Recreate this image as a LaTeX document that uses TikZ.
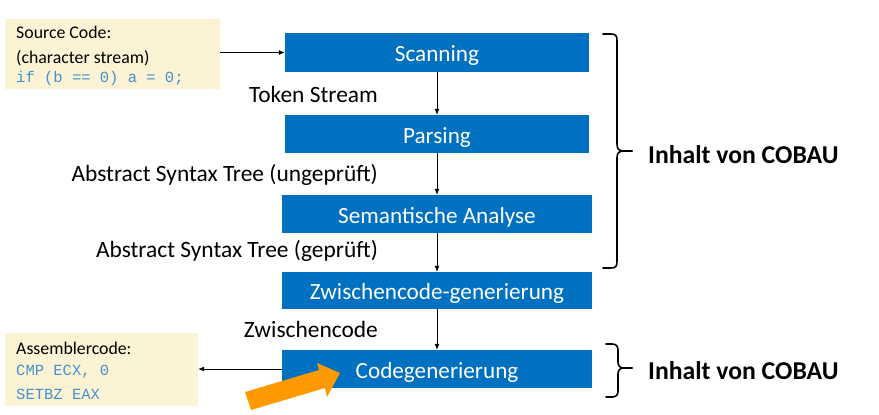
\documentclass[tikz,border=0pt]{standalone}
\usepackage{fontspec}
\setmainfont{Carlito}
\newfontfamily\codefont{Liberation Mono}
\definecolor{boxblue}{RGB}{0,112,192}
\definecolor{noteyellow}{RGB}{252,243,213}
\definecolor{codeblue}{RGB}{70,145,205}
\definecolor{arroworange}{RGB}{255,153,0}
\tikzset{
  stage/.style={fill=boxblue, text=white, font=\fontsize{23.2}{26}\selectfont, inner sep=0pt, text height=20pt, text depth=2pt},
  note/.style={fill=noteyellow, inner sep=0pt},
  lbl/.style={anchor=east, font=\fontsize{23.4}{26}\selectfont, inner sep=0pt},
  notetext/.style={anchor=west, font=\fontsize{17.8}{20}\selectfont, inner sep=0pt},
  codetext/.style={anchor=west, font=\codefont\fontsize{15.5}{18}\selectfont, text=codeblue, inner sep=0pt},
  flow/.style={-{Latex[length=6pt,width=5pt]}, line width=0.8pt},
  brace/.style={line width=1.6pt, line cap=round, line join=round},
  cobau/.style={anchor=west, font=\bfseries\fontsize{25.7}{28}\selectfont, inner sep=0pt}
}
\usetikzlibrary{arrows.meta}
\begin{document}
\begin{tikzpicture}[x=1pt,y=-1pt]
\useasboundingbox (0,0) rectangle (879,415);
% stages
\node[stage, minimum width=304pt, minimum height=39pt] (scan) at (437,52.5) {Scanning};
\node[stage, minimum width=304pt, minimum height=38pt] (pars) at (437,134) {Parsing};
\node[stage, minimum width=310pt, minimum height=38pt] (sem) at (437,214) {Semantische Analyse};
\node[stage, minimum width=310pt, minimum height=37pt] (zw) at (437,290.5) {Zwischencode-generierung};
\node[stage, minimum width=310pt, minimum height=38pt] (cg) at (437,369) {Codegenerierung};
% notes
\node[note, minimum width=215pt, minimum height=70pt] (src) at (112.5,54) {};
\node[note, minimum width=193pt, minimum height=73pt] (asm) at (101.5,369.5) {};
\node[notetext] (srct1) at (16,32) {Source Code:};
\node[notetext] (srct2) at (16,58) {(character stream)};
\node[codetext] (srct3) at (16,78) {if (b == 0) a = 0;};
\node[notetext] (asmt1) at (16,348) {Assemblercode:};
\node[codetext] (asmt2) at (16,372) {CMP ECX, 0};
\node[codetext] (asmt3) at (16,394) {SETBZ EAX};
% connectors
\draw[flow] (src.east |- scan.west) -- (scan.west);
\draw[flow] (scan) -- (pars);
\draw[flow] (pars) -- (sem);
\draw[flow] (sem) -- (zw);
\draw[flow] (zw) -- (cg);
\draw[flow] (cg.west) -- (asm.east |- cg.west);
% labels
\node[lbl] (l1) at (378,94) {Token Stream};
\node[lbl] (l2) at (378,175) {Abstract Syntax Tree (ungeprüft)};
\node[lbl] (l3) at (378,251) {Abstract Syntax Tree (geprüft)};
\node[lbl] (l4) at (378,329) {Zwischencode};
% braces
\draw[brace] (603,34) -- (611,34) .. controls (616,34) and (617,36) .. (617,41)
  -- (617,144) .. controls (617,149) and (619,151) .. (624,151) -- (632,151);
\draw[brace] (632,151) -- (624,151) .. controls (619,151) and (617,153) .. (617,158)
  -- (617,261) .. controls (617,266) and (616,268) .. (611,268) -- (603,268);
\draw[brace] (606,344) -- (612,344) .. controls (616,344) and (618,346) .. (618,350)
  -- (618,362) .. controls (618,366) and (620,368) .. (624,368) -- (632,368);
\draw[brace] (632,368) -- (624,368) .. controls (620,368) and (618,370) .. (618,374)
  -- (618,391) .. controls (618,395) and (616,397) .. (612,397) -- (606,397);
\node[cobau] (c1) at (648,155) {Inhalt von COBAU};
\node[cobau] (c2) at (648,371) {Inhalt von COBAU};
% orange arrow
\fill[arroworange] (245,392) -- (319,370) -- (317,363) -- (340,373) -- (327,397) -- (325,388) -- (251,410) -- cycle;
\end{tikzpicture}
\end{document}
